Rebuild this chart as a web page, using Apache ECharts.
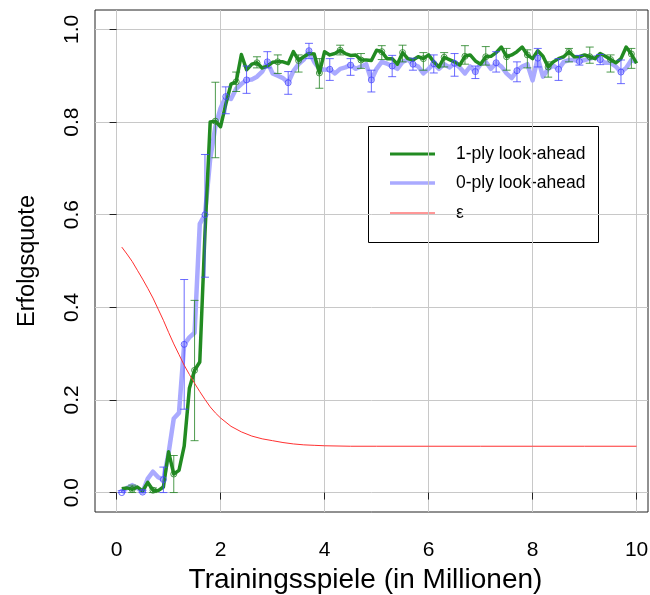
<!DOCTYPE html>
<html>
<head>
<meta charset="utf-8">
<script src="https://cdn.jsdelivr.net/npm/echarts@6/dist/echarts.min.js"></script>
<style>
  html, body { margin: 0; padding: 0; background: #fff; }
  #chart { width: 650px; height: 595px; }
</style>
</head>
<body>
<div id="chart"></div>
<script>
// Training games (millions) at which the success rate was measured
const trainX = [
  0.1, 0.2, 0.3, 0.4, 0.5, 0.6, 0.7, 0.8, 0.9, 1.0,
  1.1, 1.2, 1.3, 1.4, 1.5, 1.6, 1.7, 1.8, 1.9, 2.0,
  2.1, 2.2, 2.3, 2.4, 2.5, 2.6, 2.7, 2.8, 2.9, 3.0,
  3.1, 3.2, 3.3, 3.4, 3.5, 3.6, 3.7, 3.8, 3.9, 4.0,
  4.1, 4.2, 4.3, 4.4, 4.5, 4.6, 4.7, 4.8, 4.9, 5.0,
  5.1, 5.2, 5.3, 5.4, 5.5, 5.6, 5.7, 5.8, 5.9, 6.0,
  6.1, 6.2, 6.3, 6.4, 6.5, 6.6, 6.7, 6.8, 6.9, 7.0,
  7.1, 7.2, 7.3, 7.4, 7.5, 7.6, 7.7, 7.8, 7.9, 8.0,
  8.1, 8.2, 8.3, 8.4, 8.5, 8.6, 8.7, 8.8, 8.9, 9.0,
  9.1, 9.2, 9.3, 9.4, 9.5, 9.6, 9.7, 9.8, 9.9, 10.0
];

// Success rate, 1-ply look-ahead
const ply1 = [
  0.008, 0.010, 0.007, 0.012, 0.003, 0.022, 0.005, 0.004, 0.012, 0.088,
  0.040, 0.048, 0.100, 0.225, 0.264, 0.282, 0.560, 0.800, 0.802, 0.790,
  0.838, 0.882, 0.887, 0.946, 0.913, 0.925, 0.928, 0.917, 0.921, 0.929,
  0.930, 0.930, 0.926, 0.952, 0.933, 0.941, 0.948, 0.947, 0.906, 0.952,
  0.945, 0.948, 0.955, 0.948, 0.944, 0.945, 0.934, 0.934, 0.933, 0.955,
  0.952, 0.937, 0.937, 0.925, 0.950, 0.937, 0.934, 0.941, 0.937, 0.945,
  0.930, 0.919, 0.940, 0.935, 0.930, 0.923, 0.942, 0.945, 0.932, 0.925,
  0.941, 0.942, 0.950, 0.962, 0.941, 0.945, 0.952, 0.962, 0.945, 0.937,
  0.954, 0.942, 0.919, 0.930, 0.937, 0.941, 0.952, 0.941, 0.941, 0.945,
  0.941, 0.937, 0.948, 0.942, 0.935, 0.928, 0.937, 0.962, 0.947, 0.927
];

// Success rate, 0-ply look-ahead
const ply0 = [
  0.000, 0.010, 0.016, 0.010, 0.001, 0.030, 0.045, 0.033, 0.028, 0.085,
  0.160, 0.172, 0.320, 0.335, 0.345, 0.580, 0.600, 0.720, 0.790, 0.830,
  0.855, 0.850, 0.872, 0.882, 0.891, 0.892, 0.898, 0.909, 0.930, 0.905,
  0.900, 0.895, 0.885, 0.910, 0.925, 0.935, 0.954, 0.930, 0.915, 0.913,
  0.914, 0.905, 0.915, 0.918, 0.923, 0.915, 0.920, 0.925, 0.891, 0.915,
  0.930, 0.926, 0.921, 0.915, 0.930, 0.935, 0.925, 0.920, 0.905, 0.915,
  0.926, 0.915, 0.925, 0.918, 0.927, 0.918, 0.905, 0.920, 0.909, 0.925,
  0.930, 0.915, 0.928, 0.920, 0.905, 0.895, 0.911, 0.920, 0.925, 0.890,
  0.938, 0.898, 0.915, 0.922, 0.914, 0.930, 0.934, 0.934, 0.931, 0.934,
  0.937, 0.940, 0.935, 0.928, 0.928, 0.920, 0.908, 0.917, 0.934, 0.930
];

// Error bars, 1-ply look-ahead (position, lower, upper)
const ply1ErrX  = [0.3, 0.7, 1.1, 1.5, 1.9, 2.3, 2.7, 3.1, 3.5, 3.9, 4.3, 4.7, 5.1,
                   5.5, 5.9, 6.3, 6.7, 7.1, 7.5, 7.9, 8.3, 8.7, 9.1, 9.5, 9.9];
const ply1ErrLo = [0.000, 0.000, 0.000, 0.112, 0.723, 0.866, 0.917, 0.905, 0.908, 0.873, 0.945, 0.916, 0.935,
                   0.930, 0.912, 0.919, 0.925, 0.923, 0.912, 0.917, 0.897, 0.930, 0.927, 0.908, 0.916];
const ply1ErrHi = [0.016, 0.010, 0.080, 0.415, 0.886, 0.908, 0.941, 0.945, 0.945, 0.937, 0.966, 0.948, 0.965,
                   0.966, 0.950, 0.950, 0.965, 0.963, 0.959, 0.956, 0.930, 0.959, 0.962, 0.945, 0.959];

// Error bars, 0-ply look-ahead (position, lower, upper)
const ply0ErrX  = [0.1, 0.5, 0.9, 1.3, 1.7, 2.1, 2.5, 2.9, 3.3, 3.7, 4.1, 4.5, 4.9,
                   5.3, 5.7, 6.1, 6.5, 6.9, 7.3, 7.7, 8.1, 8.5, 8.9, 9.3, 9.7];
const ply0ErrLo = [0.000, 0.000, 0.000, 0.180, 0.465, 0.818, 0.862, 0.917, 0.860, 0.937, 0.890, 0.901, 0.865,
                   0.898, 0.912, 0.906, 0.899, 0.894, 0.908, 0.887, 0.919, 0.890, 0.923, 0.924, 0.883];
const ply0ErrHi = [0.004, 0.005, 0.055, 0.460, 0.730, 0.876, 0.921, 0.952, 0.909, 0.970, 0.937, 0.937, 0.912,
                   0.944, 0.938, 0.945, 0.948, 0.921, 0.952, 0.930, 0.959, 0.937, 0.944, 0.946, 0.934];

// Exploration rate epsilon
const epsX = [0.1, 0.2, 0.3, 0.4, 0.5, 0.6, 0.7, 0.8, 0.9, 1.0,
              1.1, 1.2, 1.3, 1.4, 1.5, 1.6, 1.7, 1.8, 1.9, 2.0,
              2.2, 2.4, 2.6, 2.8, 3.0, 3.2, 3.4, 3.6, 3.8, 4.0,
              4.5, 5.0, 6.0, 7.0, 8.0, 9.0, 10.0];
const epsY = [0.530, 0.515, 0.499, 0.480, 0.461, 0.441, 0.420, 0.396, 0.372, 0.346,
              0.321, 0.298, 0.275, 0.255, 0.236, 0.218, 0.201, 0.185, 0.172, 0.161,
              0.143, 0.131, 0.122, 0.116, 0.112, 0.108, 0.105, 0.103, 0.102, 0.101,
              0.100, 0.100, 0.100, 0.100, 0.100, 0.100, 0.100];

// Axis ticks
const xTicks = [0, 2, 4, 6, 8, 10];
const yTicks = [0, 0.2, 0.4, 0.6, 0.8, 1.0];

const FONT = "'Liberation Sans', Arial, Helvetica, sans-serif";
const GREEN = '#228b22';
const BLUE = '#aaaaff';
const RED = '#ff3030';

function pairs(xs, ys) { return xs.map((x, i) => [x, ys[i]]); }
function meanAt(series, x) { return series[trainX.indexOf(x)]; }
function errData(xs, lo, hi, series) {
  return xs.map((x, i) => [x, lo[i], hi[i], meanAt(series, x)]);
}

// vertical error bar with caps and an open circle at the mean
function errBar(color) {
  return function (params, api) {
    const x = api.value(0);
    const pLo = api.coord([x, api.value(1)]);
    const pHi = api.coord([x, api.value(2)]);
    const pM = api.coord([x, api.value(3)]);
    const cap = 4;
    const st = { stroke: color, lineWidth: 1, fill: null };
    return {
      type: 'group',
      children: [
        { type: 'line', shape: { x1: pLo[0], y1: pLo[1], x2: pHi[0], y2: pHi[1] }, style: st },
        { type: 'line', shape: { x1: pLo[0] - cap, y1: pLo[1], x2: pLo[0] + cap, y2: pLo[1] }, style: st },
        { type: 'line', shape: { x1: pHi[0] - cap, y1: pHi[1], x2: pHi[0] + cap, y2: pHi[1] }, style: st },
        { type: 'circle', shape: { cx: pM[0], cy: pM[1], r: 3 }, style: { stroke: color, lineWidth: 1, fill: 'none' } }
      ]
    };
  };
}

const chart = echarts.init(document.getElementById('chart'), null, { renderer: 'canvas' });

const option = {
  animation: false,
  backgroundColor: '#ffffff',
  textStyle: { fontFamily: FONT },
  grid: {
    left: 95, top: 10, right: 2, bottom: 83,
    outerBoundsMode: 'none', containLabel: false,
    show: true, borderColor: '#222', borderWidth: 1, backgroundColor: 'transparent'
  },
  xAxis: {
    type: 'value',
    min: -0.415, max: 10.22,
    name: 'Trainingsspiele (in Millionen)',
    nameLocation: 'middle',
    nameGap: 52,
    nameTextStyle: { fontFamily: FONT, fontSize: 28, color: '#000', padding: [0, 12, 0, 0] },
    axisLine: { show: false },
    axisTick: { show: true, customValues: xTicks, length: 7, lineStyle: { color: '#222' } },
    axisLabel: { customValues: xTicks, fontFamily: FONT, fontSize: 21, color: '#000', margin: 28 },
    splitLine: { show: true, lineStyle: { color: '#c8c8c8', width: 1 } }
  },
  yAxis: {
    type: 'value',
    min: -0.042, max: 1.042,
    name: 'Erfolgsquote',
    nameLocation: 'middle',
    nameGap: 55,
    nameTextStyle: { fontFamily: FONT, fontSize: 23.5, color: '#000' },
    axisLine: { show: false },
    axisTick: { show: true, customValues: yTicks, length: 7, lineStyle: { color: '#222' } },
    axisLabel: {
      customValues: yTicks, rotate: 90, fontFamily: FONT, fontSize: 21, color: '#000', margin: 12,
      formatter: v => v.toFixed(1)
    },
    splitLine: { show: true, lineStyle: { color: '#c8c8c8', width: 1 } }
  },
  series: [
    {
      name: '0-ply look-ahead', type: 'line', data: pairs(trainX, ply0),
      showSymbol: false, lineStyle: { color: BLUE, width: 4.5, join: 'round' }, z: 2
    },
    {
      name: '1-ply look-ahead', type: 'line', data: pairs(trainX, ply1),
      showSymbol: false, lineStyle: { color: GREEN, width: 3.5, join: 'round' }, z: 3
    },
    {
      name: '0-ply error', type: 'custom', renderItem: errBar('rgba(70,70,255,0.8)'),
      data: errData(ply0ErrX, ply0ErrLo, ply0ErrHi, ply0), z: 4
    },
    {
      name: '1-ply error', type: 'custom', renderItem: errBar('rgba(34,130,34,0.8)'),
      data: errData(ply1ErrX, ply1ErrLo, ply1ErrHi, ply1), z: 5
    },
    {
      name: 'ε', type: 'line', data: pairs(epsX, epsY),
      showSymbol: false, lineStyle: { color: RED, width: 1 }, z: 6
    }
  ],
  graphic: [
    {
      type: 'group', left: 368, top: 126, z: 100,
      children: [
        { type: 'rect', shape: { x: 0.5, y: 0.5, width: 230, height: 116 }, style: { fill: '#fff', stroke: '#000', lineWidth: 1 } },
        { type: 'line', shape: { x1: 22, y1: 28, x2: 67, y2: 28 }, style: { stroke: GREEN, lineWidth: 3 } },
        { type: 'line', shape: { x1: 22, y1: 57, x2: 67, y2: 57 }, style: { stroke: BLUE, lineWidth: 3.5 } },
        { type: 'line', shape: { x1: 22, y1: 87, x2: 67, y2: 87 }, style: { stroke: RED, lineWidth: 1 } },
        { type: 'text', x: 88, y: 28, style: { text: '1-ply look-ahead', font: "17.5px " + FONT, fill: '#000', verticalAlign: 'middle' } },
        { type: 'text', x: 88, y: 57, style: { text: '0-ply look-ahead', font: "17.5px " + FONT, fill: '#000', verticalAlign: 'middle' } },
        { type: 'text', x: 88, y: 87, style: { text: 'ε', font: "17.5px " + FONT, fill: '#000', verticalAlign: 'middle' } }
      ]
    }
  ]
};

chart.setOption(option);
</script>
</body>
</html>
